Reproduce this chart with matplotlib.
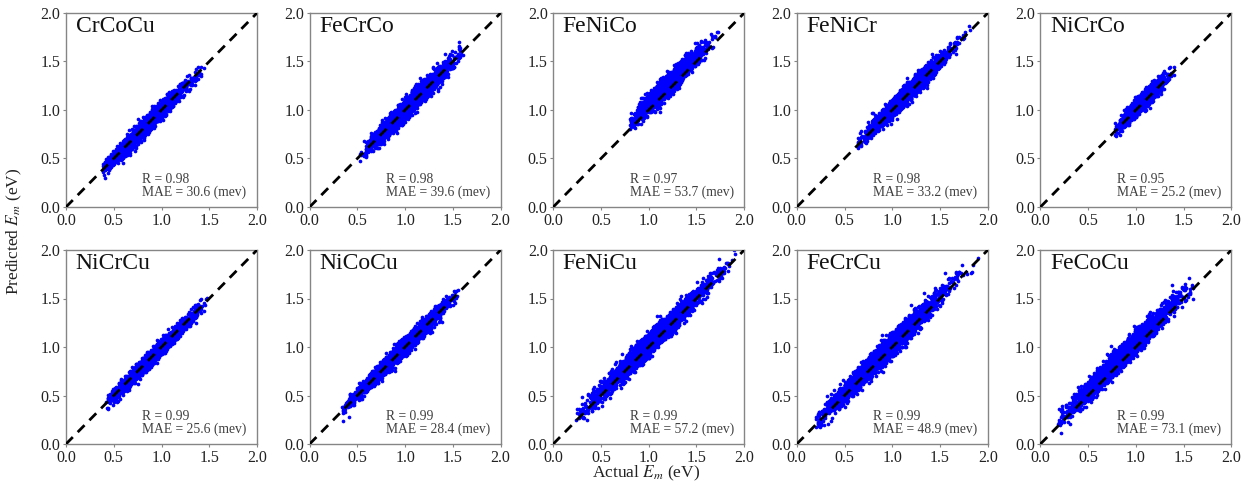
import numpy as np
import matplotlib
matplotlib.use("Agg")
import matplotlib.pyplot as plt

plt.rcParams["font.family"] = ["Liberation Serif", "DejaVu Serif"]
plt.rcParams["mathtext.fontset"] = "stix"

# Alloy systems and fit statistics
systems = ["CrCoCu", "FeCrCo", "FeNiCo", "FeNiCr", "NiCrCo",
           "NiCrCu", "NiCoCu", "FeNiCu", "FeCrCu", "FeCoCu"]
r_values = [0.98, 0.98, 0.97, 0.98, 0.95, 0.99, 0.99, 0.99, 0.99, 0.99]
mae_values = [30.6, 39.6, 53.7, 33.2, 25.2, 25.6, 28.4, 57.2, 48.9, 73.1]

# Distribution of actual migration energies (eV) per system
actual_min = [0.38, 0.52, 0.80, 0.63, 0.77, 0.42, 0.33, 0.24, 0.20, 0.18]
actual_max = [1.48, 1.62, 1.76, 1.82, 1.40, 1.48, 1.55, 1.90, 1.90, 1.60]
actual_mean = [0.85, 1.05, 1.20, 1.15, 1.07, 0.90, 0.95, 1.00, 0.90, 0.85]
actual_sd = [0.20, 0.20, 0.17, 0.20, 0.11, 0.22, 0.24, 0.30, 0.30, 0.28]
# Prediction offset and scatter (eV)
pred_bias = [0.00, 0.01, 0.06, 0.02, 0.02, 0.00, 0.01, 0.03, 0.03, 0.05]
pred_sd = [0.040, 0.050, 0.050, 0.045, 0.040, 0.035, 0.040, 0.055, 0.055, 0.055]
n_points = [2500, 2500, 2500, 2500, 2000, 2500, 2500, 3000, 3000, 3000]

ticks = [0.0, 0.5, 1.0, 1.5, 2.0]

rng = np.random.default_rng(7)


def sample_pairs(i):
    n = n_points[i]
    x = rng.normal(actual_mean[i], actual_sd[i], n * 3)
    x = x[(x >= actual_min[i]) & (x <= actual_max[i])][:n]
    y = x + pred_bias[i] + rng.normal(0.0, pred_sd[i], x.size)
    return x, y


fig = plt.figure(figsize=(12.54, 4.91), dpi=100)

ax_w = 191 / 1254
ax_h = 194 / 491
lefts = [66 / 1254 + k * 243.6 / 1254 for k in range(5)]
bottoms = [1 - 207 / 491, 1 - 444 / 491]

spine_color = "#858585"
for i, name in enumerate(systems):
    row, col = divmod(i, 5)
    ax = fig.add_axes([lefts[col], bottoms[row], ax_w, ax_h])
    x, y = sample_pairs(i)
    ax.scatter(x, y, s=7, color="#0000ff", linewidths=0, zorder=2)
    ax.plot([0, 2], [0, 2], color="black", lw=2.0, ls=(0, (3.5, 2.5)), zorder=3)
    ax.set_xlim(0, 2)
    ax.set_ylim(0, 2)
    ax.set_xticks(ticks)
    ax.set_yticks(ticks)
    ax.set_xticklabels([f"{t:.1f}" for t in ticks])
    ax.set_yticklabels([f"{t:.1f}" for t in ticks])
    ax.tick_params(labelsize=11.5, length=2.5, width=0.8, color=spine_color,
                   labelcolor="#222222", pad=1.5)
    for sp in ax.spines.values():
        sp.set_color(spine_color)
        sp.set_linewidth(1.0)
    ax.text(0.1, 1.8, name, fontsize=17, color="#111111")
    ax.text(0.8, 0.08, f"R = {r_values[i]:.2f}\nMAE = {mae_values[i]:.1f} (mev)",
            fontsize=9.8, color="#404040", linespacing=1.0, va="bottom")

fig.text(0.0115, 0.53, r"Predicted $E_m$ (eV)", rotation=90, ha="center",
         va="center", fontsize=12.5, color="#222222")
fig.text(0.515, 0.035, r"Actual $E_m$ (eV)", ha="center", va="center",
         fontsize=12.5, color="#222222")

fig.savefig("out.png", dpi=100)
